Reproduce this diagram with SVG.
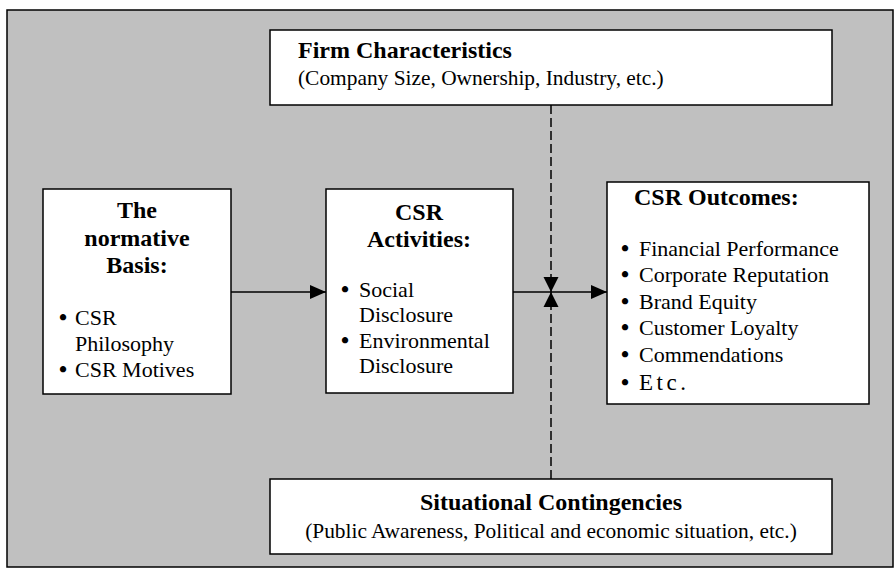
<svg xmlns="http://www.w3.org/2000/svg" width="894" height="568" viewBox="0 0 894 568">
<style>
.frame{fill:#c0c0c0;stroke:#000;stroke-width:1.5}
.box{fill:#fff;stroke:#000;stroke-width:1.5}
.t{font-family:"Liberation Serif","Times New Roman",serif;fill:#000}
.b{font-weight:bold;font-size:24px}
.s{font-size:21.4px}
.i{font-size:22px}
.u{font-size:23px;font-weight:bold}
.c{text-anchor:middle}
.ln{stroke:#000;stroke-width:1.5;fill:none}
.dash{stroke-dasharray:9,4}
</style>
<defs>
<marker id="ah" markerUnits="userSpaceOnUse" markerWidth="16" markerHeight="14" refX="16" refY="7" orient="auto" viewBox="0 0 16 14">
<path d="M0,0 L16,7 L0,14 z" fill="#000" stroke="none"/>
</marker>
<marker id="av" markerUnits="userSpaceOnUse" markerWidth="15" markerHeight="16" refX="15" refY="8" orient="auto" viewBox="0 0 15 16">
<path d="M0,0.5 L15,8 L0,15.5 z" fill="#000" stroke="none"/>
</marker>
</defs>
<rect class="frame" x="7" y="10" width="886" height="557"/>

<g id="connectors">
<line class="ln" x1="231" y1="292" x2="326" y2="292" marker-end="url(#ah)"/>
<line class="ln" x1="513" y1="292" x2="607" y2="292" marker-end="url(#ah)"/>
<line class="ln dash" x1="551" y1="105" x2="551" y2="292" marker-end="url(#av)"/>
<line class="ln dash" x1="551" y1="479" x2="551" y2="292" marker-end="url(#av)"/>
</g>

<g id="firm">
<rect class="box" x="270" y="30" width="562" height="75"/>
<text class="t b" x="298" y="58">Firm Characteristics</text>
<text class="t s" x="298" y="85">(Company Size, Ownership, Industry, etc.)</text>
</g>

<g id="normative">
<rect class="box" x="43" y="189" width="188" height="205"/>
<text class="t b c" x="137" y="218">The</text>
<text class="t b c" x="137" y="246">normative</text>
<text class="t b c" x="137" y="273">Basis:</text>
<text class="t i" x="59" y="325"><tspan class="u">•</tspan><tspan x="75">CSR</tspan></text>
<text class="t i" x="75" y="351">Philosophy</text>
<text class="t i" x="59" y="377"><tspan class="u">•</tspan><tspan x="75">CSR Motives</tspan></text>
</g>

<g id="activities">
<rect class="box" x="326" y="189" width="187" height="204"/>
<text class="t b c" x="419" y="220">CSR</text>
<text class="t b c" x="419" y="247">Activities:</text>
<text class="t i" x="341" y="297"><tspan class="u">•</tspan><tspan x="359">Social</tspan></text>
<text class="t i" x="359" y="322">Disclosure</text>
<text class="t i" x="341" y="348"><tspan class="u">•</tspan><tspan x="359">Environmental</tspan></text>
<text class="t i" x="359" y="373">Disclosure</text>
</g>

<g id="outcomes">
<rect class="box" x="607" y="182" width="262" height="222"/>
<text class="t b" x="634" y="205">CSR Outcomes:</text>
<text class="t i" x="621" y="256"><tspan class="u">•</tspan><tspan x="639">Financial Performance</tspan></text>
<text class="t i" x="621" y="282"><tspan class="u">•</tspan><tspan x="639">Corporate Reputation</tspan></text>
<text class="t i" x="621" y="309"><tspan class="u">•</tspan><tspan x="639">Brand Equity</tspan></text>
<text class="t i" x="621" y="335"><tspan class="u">•</tspan><tspan x="639">Customer Loyalty</tspan></text>
<text class="t i" x="621" y="362"><tspan class="u">•</tspan><tspan x="639">Commendations</tspan></text>
<text class="t i" x="621" y="390"><tspan class="u">•</tspan><tspan x="639" style="letter-spacing:3.5px;font-size:23px">Etc.</tspan></text>
</g>

<g id="situational">
<rect class="box" x="270" y="479" width="562" height="75"/>
<text class="t b c" x="551" y="510">Situational Contingencies</text>
<text class="t s c" x="551" y="538">(Public Awareness, Political and economic situation, etc.)</text>
</g>
</svg>
